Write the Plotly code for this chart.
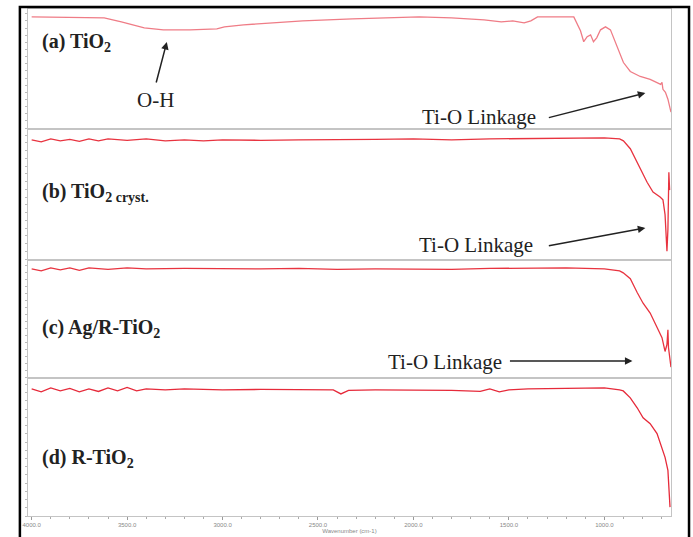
import plotly.graph_objects as go

W, H = 693, 537

# ---------------- data (wavenumber cm-1, transmittance %) ----------------
wn_a = [4000, 3900, 3800, 3700, 3620, 3530, 3410, 3310, 3170, 3030, 2990, 2890, 2750, 2580,
        2320, 2150, 1970, 1800, 1630, 1540, 1480, 1420, 1385, 1350, 1250, 1160, 1125, 1108,
        1090, 1072, 1057, 1040, 1020, 994, 968, 932, 900, 864, 812, 760, 724, 705, 698, 693,
        680, 667, 651]
t_a = [93.3, 93.0, 93.3, 93.0, 92.5, 89.2, 84.2, 82.5, 82.5, 83.3, 85.0, 86.7, 88.3, 90.0,
       91.7, 92.5, 93.3, 92.5, 90.8, 89.2, 90.0, 88.3, 90.0, 93.3, 93.3, 93.3, 81.7, 72.5,
       76.7, 78.3, 72.5, 75.8, 82.5, 85.0, 82.5, 68.3, 55.0, 47.5, 43.3, 40.8, 38.3, 36.7,
       38.3, 32.5, 30.0, 24.2, 13.3]

wn_b = [4000, 3950, 3900, 3850, 3800, 3750, 3700, 3650, 3600, 3500, 3400, 3300, 3200, 3100,
        3000, 2800, 2600, 2400, 2200, 2000, 1800, 1600, 1400, 1200, 1000, 920, 900, 864, 812,
        776, 745, 708, 693, 682, 672, 667, 662, 658]
t_b = [92.4, 90.8, 93.1, 91.6, 92.7, 91.2, 93.1, 91.6, 93.1, 92.0, 93.1, 91.6, 92.4, 91.6,
       92.4, 92.0, 92.4, 92.4, 92.7, 93.1, 92.4, 93.1, 93.5, 93.9, 93.9, 93.1, 91.6, 85.5,
       70.2, 59.5, 51.9, 48.1, 45.8, 34.4, 6.1, 22.9, 67.2, 53.4]

wn_c = [4000, 3950, 3900, 3850, 3800, 3750, 3700, 3600, 3500, 3400, 3200, 3000, 2800, 2600,
        2400, 2200, 2000, 1800, 1600, 1400, 1200, 1000, 920, 901, 864, 828, 797, 760, 724,
        698, 682, 672, 667, 664, 651]
t_c = [93.2, 91.5, 94.1, 92.4, 94.1, 91.9, 94.1, 92.8, 94.1, 93.2, 93.6, 93.2, 93.2, 93.6,
       92.8, 93.2, 93.2, 92.8, 93.6, 94.1, 94.1, 93.2, 91.5, 89.8, 84.7, 72.9, 63.6, 55.1,
       42.4, 33.9, 22.0, 28.0, 40.7, 25.4, 8.5]

wn_d = [4000, 3950, 3900, 3850, 3800, 3750, 3700, 3650, 3600, 3550, 3500, 3450, 3400, 3300,
        3200, 3000, 2800, 2600, 2420, 2380, 2340, 2200, 2000, 1800, 1650, 1600, 1550, 1500,
        1400, 1200, 1000, 920, 901, 864, 828, 797, 760, 724, 698, 682, 667, 662, 656]
t_d = [92.8, 90.6, 93.5, 91.3, 93.1, 90.6, 92.8, 90.9, 93.5, 91.3, 93.8, 91.3, 92.8, 92.0,
       92.8, 92.0, 92.4, 92.0, 92.0, 89.1, 91.7, 92.0, 92.0, 91.7, 90.9, 92.8, 90.6, 92.0,
       92.8, 93.1, 93.5, 92.0, 91.3, 86.2, 79.0, 71.7, 67.4, 60.1, 50.0, 42.8, 33.3, 21.0, 6.5]

x_tick_vals = [4000, 3500, 3000, 2500, 2000, 1500, 1000]
x_tick_text = ["4000.0", "3500.0", "3000.0", "2500.0", "2000.0", "1500.0", "1000.0"]

panel_labels = ["<b>(a) TiO<sub>2</sub></b>",
                "<b>(b) TiO<sub>2 cryst.</sub></b>",
                "<b>(c) Ag/R-TiO<sub>2</sub></b>",
                "<b>(d) R-TiO<sub>2</sub></b>"]

# ---------------- layout helpers ----------------
def px(x):
    return x / W

def py(y):
    return 1 - y / H

x_dom = [px(23), px(671)]
y_doms = [(9, 128), (130, 259), (261, 377), (379, 516)]

series = [(wn_a, t_a, "#ef7c86"), (wn_b, t_b, "#e8333f"),
          (wn_c, t_c, "#e8333f"), (wn_d, t_d, "#e62a3a")]

fig = go.Figure()
layout = dict(width=W, height=H, margin=dict(l=0, r=0, t=0, b=0),
              paper_bgcolor="white", plot_bgcolor="white", showlegend=False)

for i, ((wn, t, col), (top, bot)) in enumerate(zip(series, y_doms)):
    k = "" if i == 0 else str(i + 1)
    fig.add_trace(go.Scatter(x=wn, y=t, mode="lines",
                             line=dict(color=col, width=1.3),
                             xaxis="x" + k, yaxis="y" + k, hoverinfo="skip"))
    xa = dict(domain=x_dom, range=[4020, 650], anchor="y" + k,
              showline=True, mirror=True, linecolor="#c4c4c4", linewidth=1,
              showgrid=False, zeroline=False, showticklabels=False, ticks="")
    if i == 3:
        xa.update(ticks="outside", ticklen=3, tickcolor="#999",
                  tickvals=x_tick_vals, ticktext=x_tick_text, showticklabels=True,
                  tickfont=dict(size=6, color="#888", family="Liberation Sans"),
                  minor=dict(dtick=100, ticks="outside", ticklen=2, tickcolor="#aaa"),
                  title=dict(text="Wavenumber (cm-1)",
                             font=dict(size=6, color="#888", family="Liberation Sans"),
                             standoff=0))
    else:
        xa.update(matches="x4")
    ya = dict(domain=[py(bot), py(top)], range=[0, 100], anchor="x" + k,
              showline=True, mirror=True, linecolor="#c4c4c4", linewidth=1,
              showgrid=False, zeroline=False, showticklabels=False,
              ticks="outside", ticklen=2, tickcolor="#bbb", dtick=6)
    layout["xaxis" + k] = xa
    layout["yaxis" + k] = ya

fig.update_layout(**layout)

serif = "Liberation Serif"
label_pos = [(35, 43), (35, 192), (35, 328), (35, 458)]
for txt, (lx, ly) in zip(panel_labels, label_pos):
    fig.add_annotation(text=txt, x=px(lx), y=py(ly), xref="paper", yref="paper",
                       xanchor="left", yanchor="middle", showarrow=False,
                       font=dict(family=serif, size=20, color="#222"))

# text labels
texts = [("O-H", 152, 100), ("Ti-O Linkage", 477, 117),
         ("Ti-O Linkage", 474, 245), ("Ti-O Linkage", 443, 362)]
for txt, tx, ty in texts:
    fig.add_annotation(text=txt, x=px(tx), y=py(ty), xref="paper", yref="paper",
                       xanchor="center", yanchor="middle", showarrow=False,
                       font=dict(family=serif, size=21, color="#222"))

# arrows: (tail x, tail y, head x, head y)
arrows = [(152, 84, 163, 42), (547, 118, 645, 93), (547, 246, 645, 228), (508, 361, 632, 361)]
for x0, y0, x1, y1 in arrows:
    fig.add_annotation(text="", x=px(x1), y=py(y1), xref="paper", yref="paper",
                       ax=x0 - x1, ay=y0 - y1, axref="pixel", ayref="pixel",
                       showarrow=True, arrowhead=2, arrowsize=1, arrowwidth=1.5,
                       arrowcolor="#222")

# outer black frame
fig.add_shape(type="rect", xref="paper", yref="paper",
              x0=px(15), x1=px(689), y0=py(545), y1=py(7),
              line=dict(color="black", width=2.5), fillcolor="rgba(0,0,0,0)")

fig.write_html("out.html", config={"displayModeBar": False},
               post_script="document.body.style.margin='0';document.body.style.overflow='hidden';")
